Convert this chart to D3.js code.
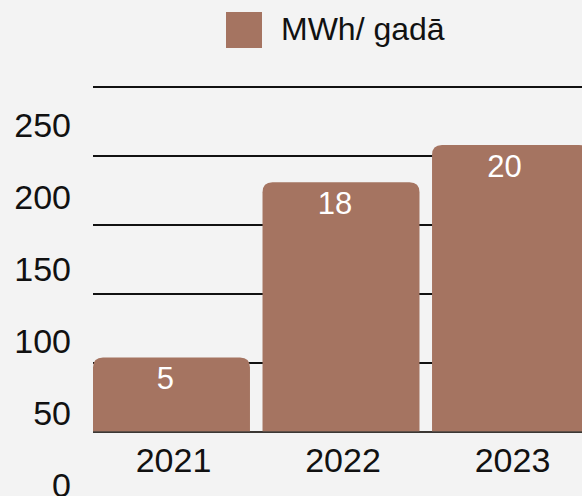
<!DOCTYPE html>
<html>
<head>
<meta charset="utf-8">
<script src="https://cdn.jsdelivr.net/npm/d3@7"></script>
<style>
  html, body { margin: 0; padding: 0; background: #f3f3f3; }
  svg { display: block; font-family: "Liberation Sans", Arial, sans-serif; }
</style>
</head>
<body>
<svg id="chart" width="582" height="496"></svg>
<script>
// data
var years = ["2021", "2022", "2023"];
var values = [54, 181, 208];        // bar height in axis units
var barLabels = ["5", "18", "20"];  // text printed on the bars
var ticks = [0, 50, 100, 150, 200, 250];
var seriesName = "MWh/ gadā";

var W = 582, H = 496;
var barColor = "#a57461";

var svg = d3.select("#chart");

var x = d3.scaleBand()
    .domain(years)
    .range([93, 589])
    .paddingInner(0.074)
    .paddingOuter(0);

var y = d3.scaleLinear().domain([0, 250]).range([432, 87]);
// tick labels sit on their own, slightly looser spacing
var yLab = d3.scaleLinear().domain([0, 250]).range([485, 124.5]);

// gridlines
svg.append("g").selectAll("line")
    .data(ticks)
    .enter().append("line")
    .attr("x1", 93).attr("x2", W)
    .attr("y1", function(d) { return y(d); })
    .attr("y2", function(d) { return y(d); })
    .attr("stroke", "#111")
    .attr("stroke-width", 2);

// y tick labels
svg.append("g").selectAll("text")
    .data(ticks)
    .enter().append("text")
    .attr("x", 71)
    .attr("y", function(d) { return yLab(d); })
    .attr("text-anchor", "end")
    .attr("dominant-baseline", "central")
    .attr("font-size", 34)
    .attr("fill", "#111")
    .text(function(d) { return d; });

// bars with rounded top corners
var r = 10;
function barPath(d, i) {
  var x0 = x(years[i]), w = x.bandwidth(), top = y(d), bot = y(0);
  return "M" + x0 + "," + bot +
    "V" + (top + r) +
    "Q" + x0 + "," + top + " " + (x0 + r) + "," + top +
    "H" + (x0 + w - r) +
    "Q" + (x0 + w) + "," + top + " " + (x0 + w) + "," + (top + r) +
    "V" + bot + "Z";
}
svg.append("g").selectAll("path")
    .data(values)
    .enter().append("path")
    .attr("d", barPath)
    .attr("fill", barColor);

// baseline
svg.append("line")
    .attr("x1", 93).attr("x2", W)
    .attr("y1", y(0)).attr("y2", y(0))
    .attr("stroke", "#4a4440")
    .attr("stroke-width", 1.5);

// value labels
svg.append("g").selectAll("text")
    .data(values)
    .enter().append("text")
    .attr("x", function(d, i) { return x(years[i]) + x.bandwidth() / 2 - 6; })
    .attr("y", function(d) { return y(d) + 32; })
    .attr("text-anchor", "middle")
    .attr("font-size", 31)
    .attr("fill", "#fff")
    .text(function(d, i) { return barLabels[i]; });

// x labels
svg.append("g").selectAll("text")
    .data(years)
    .enter().append("text")
    .attr("x", function(d) { return x(d) + x.bandwidth() / 2 + 2; })
    .attr("y", 472)
    .attr("text-anchor", "middle")
    .attr("font-size", 34)
    .attr("fill", "#111")
    .text(function(d) { return d; });

// legend
var leg = svg.append("g");
leg.append("rect")
    .attr("x", 226).attr("y", 12)
    .attr("width", 36).attr("height", 36)
    .attr("fill", barColor);
leg.append("text")
    .attr("x", 281).attr("y", 39.5)
    .attr("font-size", 32)
    .attr("fill", "#111")
    .text(seriesName);
</script>
</body>
</html>
